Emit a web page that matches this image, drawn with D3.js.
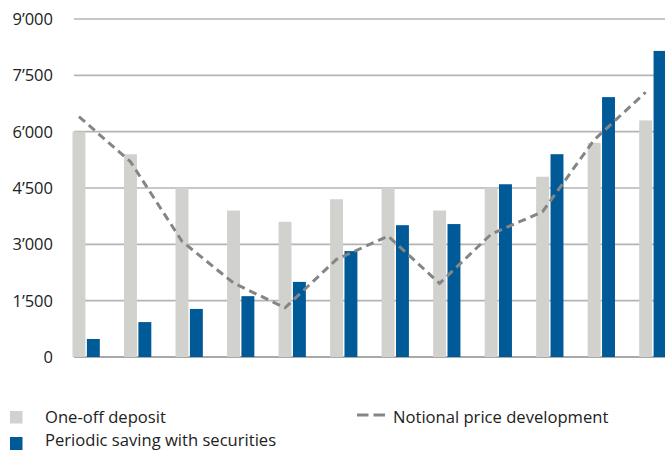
<!DOCTYPE html>
<html>
<head>
<meta charset="utf-8">
<script src="https://cdn.jsdelivr.net/npm/d3@7"></script>
<style>
  body { margin: 0; background: #fff; }
  svg { display: block; font-family: "Open Sans", Lato, sans-serif; }
</style>
</head>
<body>
<div id="chart"></div>
<script>
var periods = ["1","2","3","4","5","6","7","8","9","10","11","12"];
var oneOff   = [6000, 5400, 4500, 3900, 3600, 4200, 4500, 3900, 4500, 4800, 5700, 6300];
var periodic = [480, 930, 1280, 1620, 2000, 2820, 3510, 3540, 4600, 5400, 6920, 8150];
var notional = [6400, 5200, 3080, 1970, 1310, 2600, 3220, 1960, 3270, 3870, 5780, 7050];
var yTicks = [0, 1500, 3000, 4500, 6000, 7500, 9000];

var width = 665, height = 450;

var svg = d3.select("#chart").append("svg")
    .attr("width", width)
    .attr("height", height);

var y = d3.scaleLinear()
    .domain([0, 9000])
    .range([357, 19]);

var x0 = d3.scaleBand()
    .domain(periods)
    .range([72.5, 666.5])
    .paddingInner(0.47)
    .paddingOuter(0);

var x1 = d3.scaleBand()
    .domain(["oneOff", "periodic"])
    .range([0, x0.bandwidth()])
    .paddingInner(0.1);

var fmt = function(d) {
  return d3.format(",")(d).replace(/,/g, "\u2019");
};

// gridlines
svg.append("g")
  .selectAll("line")
  .data(yTicks)
  .enter().append("line")
    .attr("x1", 74)
    .attr("x2", width)
    .attr("y1", function(d) { return y(d); })
    .attr("y2", function(d) { return y(d); })
    .attr("stroke", function(d) { return d === 0 ? "#8c8c8c" : "#b4b4b4"; })
    .attr("stroke-width", 1.6);

// y labels
svg.append("g")
  .selectAll("text")
  .data(yTicks)
  .enter().append("text")
    .attr("x", 53)
    .attr("y", function(d) { return y(d); })
    .attr("dy", "0.36em")
    .attr("text-anchor", "end")
    .attr("font-size", 16.5)
    .attr("fill", "#222")
    .text(fmt);

// bars
var groups = svg.append("g")
  .selectAll("g")
  .data(periods)
  .enter().append("g")
    .attr("transform", function(d) { return "translate(" + x0(d) + ",0)"; });

groups.append("rect")
    .attr("x", x1("oneOff"))
    .attr("width", x1.bandwidth())
    .attr("y", function(d, i) { return y(oneOff[i]); })
    .attr("height", function(d, i) { return y(0) - y(oneOff[i]); })
    .attr("fill", "#d1d1cd");

groups.append("rect")
    .attr("x", x1("periodic"))
    .attr("width", x1.bandwidth())
    .attr("y", function(d, i) { return y(periodic[i]); })
    .attr("height", function(d, i) { return y(0) - y(periodic[i]); })
    .attr("fill", "#005a98");

// notional price line
var line = d3.line()
    .x(function(d, i) { return x0(periods[i]) + x1("oneOff") + x1.bandwidth() / 2; })
    .y(function(d) { return y(d); });

svg.append("path")
    .datum(notional)
    .attr("d", line)
    .attr("fill", "none")
    .attr("stroke", "#858585")
    .attr("stroke-width", 3)
    .attr("stroke-dasharray", "8,5");

// legend
var legend = svg.append("g").attr("font-size", 16.6).attr("fill", "#222");

legend.append("rect").attr("x", 10).attr("y", 411).attr("width", 12.5).attr("height", 12.5).attr("fill", "#d1d1cd");
legend.append("text").attr("x", 45).attr("y", 423).text("One-off deposit");

legend.append("rect").attr("x", 10).attr("y", 437).attr("width", 12.5).attr("height", 13).attr("fill", "#005a98");
legend.append("text").attr("x", 45).attr("y", 446).text("Periodic saving with securities");

legend.append("line")
    .attr("x1", 357).attr("x2", 385)
    .attr("y1", 415).attr("y2", 415)
    .attr("stroke", "#858585")
    .attr("stroke-width", 3)
    .attr("stroke-dasharray", "11.5,5");
legend.append("text").attr("x", 393).attr("y", 423).text("Notional price development");
</script>
</body>
</html>
